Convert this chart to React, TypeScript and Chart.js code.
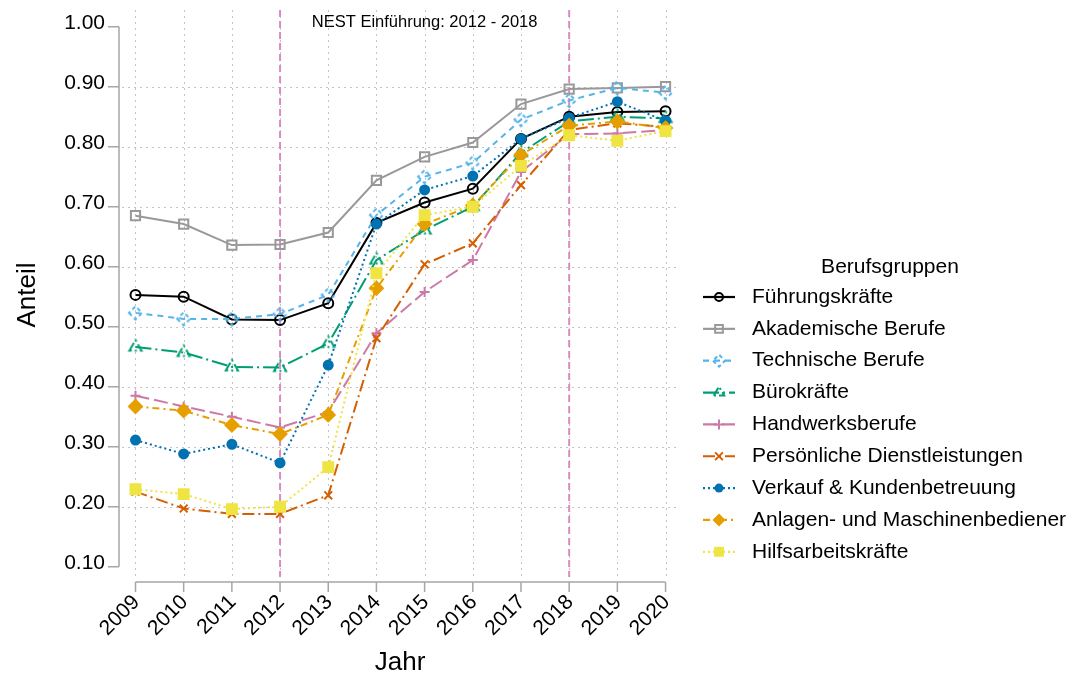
import React, { useEffect, useRef } from 'react';
import { Chart, registerables } from 'chart.js';

Chart.register(...registerables);

// ---------- data ----------
const YEARS = [2009, 2010, 2011, 2012, 2013, 2014, 2015, 2016, 2017, 2018, 2019, 2020];
const Y_TICKS = [0.1, 0.2, 0.3, 0.4, 0.5, 0.6, 0.7, 0.8, 0.9, 1.0];
const Y_GRID = [0.2, 0.3, 0.4, 0.5, 0.6, 0.7, 0.8, 0.9];
const MARK_YEARS = [2012, 2018];
const ANNOTATION = 'NEST Einführung: 2012 - 2018';
const LEGEND_TITLE = 'Berufsgruppen';
const X_TITLE = 'Jahr';
const Y_TITLE = 'Anteil';

const NAMES = [
  'Führungskräfte',
  'Akademische Berufe',
  'Technische Berufe',
  'Bürokräfte',
  'Handwerksberufe',
  'Persönliche Dienstleistungen',
  'Verkauf & Kundenbetreuung',
  'Anlagen- und Maschinenbediener',
  'Hilfsarbeitskräfte',
];

const FUEHRUNG = [0.553, 0.550, 0.512, 0.511, 0.539, 0.673, 0.707, 0.730, 0.813, 0.850, 0.858, 0.859];
const AKADEMISCH = [0.685, 0.671, 0.636, 0.637, 0.657, 0.744, 0.783, 0.807, 0.871, 0.896, 0.898, 0.900];
const TECHNISCH = [0.523, 0.513, 0.513, 0.521, 0.553, 0.686, 0.750, 0.773, 0.845, 0.877, 0.898, 0.890];
const BUERO = [0.466, 0.457, 0.433, 0.432, 0.472, 0.611, 0.661, 0.700, 0.790, 0.842, 0.850, 0.847];
const HANDWERK = [0.385, 0.367, 0.350, 0.332, 0.358, 0.489, 0.558, 0.611, 0.758, 0.821, 0.822, 0.828];
const PERSOENLICH = [0.225, 0.197, 0.188, 0.188, 0.219, 0.481, 0.604, 0.639, 0.736, 0.828, 0.839, 0.833];
const VERKAUF = [0.311, 0.288, 0.304, 0.273, 0.436, 0.671, 0.728, 0.751, 0.813, 0.848, 0.875, 0.843];
const ANLAGEN = [0.367, 0.360, 0.336, 0.321, 0.353, 0.564, 0.671, 0.702, 0.786, 0.835, 0.842, 0.831];
const HILFS = [0.229, 0.221, 0.196, 0.200, 0.266, 0.589, 0.686, 0.700, 0.768, 0.819, 0.810, 0.826];

const SERIES = [FUEHRUNG, AKADEMISCH, TECHNISCH, BUERO, HANDWERK, PERSOENLICH, VERKAUF, ANLAGEN, HILFS];

// ---------- styles ----------
const STYLES = [
  { color: '#000000', dash: [], mdash: [], point: 'circle', filled: false, r: 5, lr: 4 },
  { color: '#999999', dash: [], mdash: [], point: 'rect', filled: false, r: 6.5, lr: 5.5 },
  { color: '#56B4E9', dash: [6, 5], mdash: [4, 3], point: 'rectRot', filled: false, r: 6.5, lr: 6 },
  { color: '#009E73', dash: [16, 4, 2, 4], mdash: [9, 3, 2, 3], point: 'triangle', filled: false, r: 7, lr: 6 },
  { color: '#CC79A7', dash: [14, 5], mdash: [], point: 'cross', filled: false, r: 5, lr: 5 },
  { color: '#D55E00', dash: [12, 4, 2, 4], mdash: [], point: 'crossRot', filled: false, r: 5.5, lr: 5.5 },
  { color: '#0072B2', dash: [2, 3], mdash: [], point: 'circle', filled: true, r: 4.5, lr: 4.5 },
  { color: '#E69F00', dash: [7, 4, 2, 4], mdash: [], point: 'rectRot', filled: true, r: 6.5, lr: 6.5 },
  { color: '#F0E442', dash: [2, 3], mdash: [], point: 'rect', filled: true, r: 7, lr: 7 },
];

const FONT = '"Liberation Sans", Arial, Helvetica, sans-serif';
const AXIS_COLOR = '#A6A6A6';
const GRID_COLOR = '#C4C4C4';
const MARK_COLOR = '#D98DBE';

function drawMarker(ctx: CanvasRenderingContext2D, style: string, x: number, y: number, r: number, color: string, filled: boolean, dash: number[]) {
  ctx.save();
  ctx.setLineDash(dash);
  ctx.strokeStyle = color;
  ctx.fillStyle = color;
  ctx.lineWidth = 2;
  ctx.beginPath();
  let strokeOnly = false;
  switch (style) {
    case 'circle':
      ctx.arc(x, y, r, 0, Math.PI * 2);
      break;
    case 'rect': {
      const s = r * Math.SQRT1_2;
      ctx.rect(x - s, y - s, 2 * s, 2 * s);
      break;
    }
    case 'rectRot':
      ctx.moveTo(x - r, y);
      ctx.lineTo(x, y + r);
      ctx.lineTo(x + r, y);
      ctx.lineTo(x, y - r);
      ctx.closePath();
      break;
    case 'triangle':
      ctx.moveTo(x - r * 0.866, y + r * 0.5);
      ctx.lineTo(x, y - r);
      ctx.lineTo(x + r * 0.866, y + r * 0.5);
      ctx.closePath();
      break;
    case 'cross':
      ctx.moveTo(x, y - r);
      ctx.lineTo(x, y + r);
      ctx.moveTo(x - r, y);
      ctx.lineTo(x + r, y);
      strokeOnly = true;
      break;
    case 'crossRot': {
      const d = r * Math.SQRT1_2;
      ctx.moveTo(x - d, y - d);
      ctx.lineTo(x + d, y + d);
      ctx.moveTo(x + d, y - d);
      ctx.lineTo(x - d, y + d);
      strokeOnly = true;
      break;
    }
  }
  if (filled && !strokeOnly) ctx.fill();
  else ctx.stroke();
  ctx.restore();
}

function makeMarkerCanvas(style: string, r: number, color: string, dash: number[]) {
  const size = Math.ceil(2 * r + 6);
  const c = document.createElement('canvas');
  c.width = size;
  c.height = size;
  const cx = c.getContext('2d');
  if (cx) drawMarker(cx, style, size / 2, size / 2, r, color, false, dash);
  return c;
}

const decoPlugin = {
  id: 'deco',
  beforeDatasetsDraw(chart: any) {
    const { ctx, chartArea: ca, scales } = chart;
    const xs = scales.x;
    const ys = scales.y;
    ctx.save();
    ctx.strokeStyle = GRID_COLOR;
    ctx.lineWidth = 1;
    ctx.setLineDash([2, 4]);
    for (const v of Y_GRID) {
      const py = Math.round(ys.getPixelForValue(v)) + 0.5;
      ctx.beginPath();
      ctx.moveTo(ca.left, py);
      ctx.lineTo(ca.right, py);
      ctx.stroke();
    }
    for (const yr of YEARS) {
      const px = Math.round(xs.getPixelForValue(yr)) + 0.5;
      ctx.beginPath();
      ctx.moveTo(px, ca.top);
      ctx.lineTo(px, ca.bottom);
      ctx.stroke();
    }
    ctx.strokeStyle = MARK_COLOR;
    ctx.lineWidth = 2;
    ctx.setLineDash([7, 4]);
    for (const yr of MARK_YEARS) {
      const px = xs.getPixelForValue(yr);
      ctx.beginPath();
      ctx.moveTo(px, ca.top);
      ctx.lineTo(px, ca.bottom);
      ctx.stroke();
    }
    ctx.restore();
  },
  afterDraw(chart: any) {
    const { ctx, chartArea: ca, scales } = chart;
    const xs = scales.x;
    const ys = scales.y;
    ctx.save();
    ctx.setLineDash([]);
    // y axis
    const axX = ca.left - 3;
    const yTop = ys.getPixelForValue(Y_TICKS[Y_TICKS.length - 1]);
    const yBot = ys.getPixelForValue(Y_TICKS[0]);
    ctx.strokeStyle = AXIS_COLOR;
    ctx.lineWidth = 1.5;
    ctx.beginPath();
    ctx.moveTo(axX, yTop);
    ctx.lineTo(axX, yBot);
    for (const v of Y_TICKS) {
      const py = ys.getPixelForValue(v);
      ctx.moveTo(axX - 11, py);
      ctx.lineTo(axX, py);
    }
    ctx.stroke();
    ctx.fillStyle = '#000';
    ctx.font = `21px ${FONT}`;
    ctx.textAlign = 'right';
    ctx.textBaseline = 'middle';
    for (const v of Y_TICKS) {
      const py = ys.getPixelForValue(v);
      ctx.fillText(v.toFixed(2), axX - 14, py - 3);
    }
    // x axis
    const axY = ca.bottom + 5;
    const xL = xs.getPixelForValue(YEARS[0]);
    const xR = xs.getPixelForValue(YEARS[YEARS.length - 1]);
    ctx.beginPath();
    ctx.moveTo(xL, axY);
    ctx.lineTo(xR, axY);
    for (const yr of YEARS) {
      const px = xs.getPixelForValue(yr);
      ctx.moveTo(px, axY);
      ctx.lineTo(px, axY + 10);
    }
    ctx.stroke();
    for (const yr of YEARS) {
      const px = xs.getPixelForValue(yr);
      ctx.save();
      ctx.translate(px + 1, axY + 17);
      ctx.rotate(-Math.PI / 4);
      ctx.textAlign = 'right';
      ctx.textBaseline = 'middle';
      ctx.fillText(String(yr), 0, 0);
      ctx.restore();
    }
    // titles
    ctx.font = `26px ${FONT}`;
    ctx.textAlign = 'center';
    ctx.textBaseline = 'middle';
    ctx.fillText(X_TITLE, 400, 663);
    ctx.save();
    ctx.translate(28, 295);
    ctx.rotate(-Math.PI / 2);
    ctx.fillText(Y_TITLE, 0, 0);
    ctx.restore();
    // annotation
    ctx.font = `16.5px ${FONT}`;
    const annX = (xs.getPixelForValue(MARK_YEARS[0]) + xs.getPixelForValue(MARK_YEARS[1])) / 2;
    ctx.fillText(ANNOTATION, annX, 22);
    // legend
    ctx.font = `21px ${FONT}`;
    ctx.textAlign = 'center';
    ctx.fillText(LEGEND_TITLE, 890, 267);
    ctx.textAlign = 'left';
    NAMES.forEach((name, i) => {
      const st = STYLES[i];
      const ry = 297 + i * 31.85;
      ctx.save();
      ctx.strokeStyle = st.color;
      ctx.lineWidth = 2.2;
      ctx.setLineDash(st.dash);
      ctx.beginPath();
      ctx.moveTo(703, ry);
      ctx.lineTo(735, ry);
      ctx.stroke();
      ctx.restore();
      drawMarker(ctx, st.point, 719, ry, st.lr, st.color, st.filled, st.mdash);
      ctx.fillStyle = '#000';
      ctx.fillText(name, 752, ry);
    });
    ctx.restore();
  },
};

export default function App() {
  const ref = useRef<HTMLCanvasElement | null>(null);
  useEffect(() => {
    if (!ref.current) return;
    const n = SERIES.length;
    const datasets = SERIES.map((vals, i) => {
      const st = STYLES[i];
      const custom = st.mdash.length > 0 ? makeMarkerCanvas(st.point, st.r, st.color, st.mdash) : null;
      return {
        label: NAMES[i],
        data: YEARS.map((yr, j) => ({ x: yr, y: vals[j] })),
        borderColor: st.color,
        backgroundColor: st.color,
        borderWidth: 2,
        borderDash: st.dash,
        tension: 0,
        pointStyle: custom || st.point,
        pointRadius: st.r,
        pointBorderWidth: 2,
        pointBorderColor: st.color,
        pointBackgroundColor: st.filled ? st.color : 'rgba(255,255,255,0)',
        order: n - i,
      };
    });
    const chart = new Chart(ref.current, {
      type: 'line',
      data: { datasets },
      options: {
        animation: false,
        responsive: false,
        maintainAspectRatio: false,
        layout: { padding: { left: 122, right: 392, top: 10, bottom: 101 } },
        scales: {
          x: { type: 'linear', min: 2008.72, max: 2020.3, display: false },
          y: { type: 'linear', min: 0.0828, max: 1.0278, display: false },
        },
        plugins: { legend: { display: false }, tooltip: { enabled: false } },
      },
      plugins: [decoPlugin],
    } as any);
    return () => chart.destroy();
  }, []);
  return (
    <div style={{ position: 'fixed', left: 0, top: 0, width: 1072, height: 678, background: '#ffffff' }}>
      <canvas ref={ref} width={1072} height={678} style={{ display: 'block', width: 1072, height: 678 }} />
    </div>
  );
}
